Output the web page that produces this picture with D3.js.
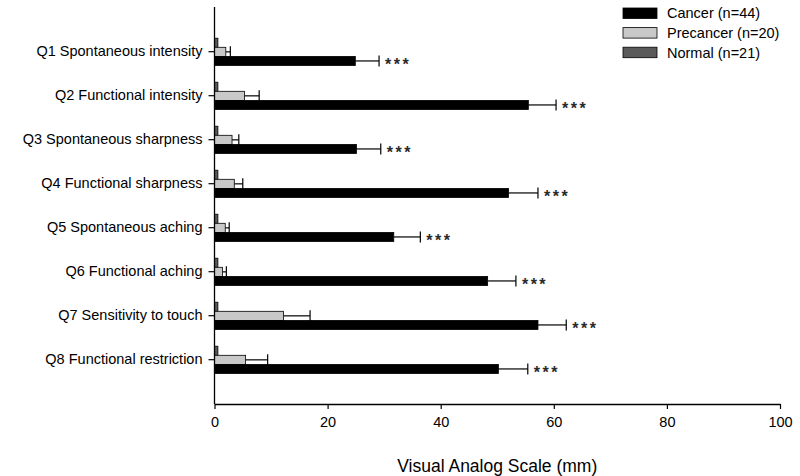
<!DOCTYPE html>
<html>
<head>
<meta charset="utf-8">
<script src="https://cdn.jsdelivr.net/npm/d3@7"></script>
<style>
  html, body { margin: 0; padding: 0; background: #fff; }
  svg { display: block; font-family: Arial, "Liberation Sans", sans-serif; }
</style>
</head>
<body>
<svg id="chart" width="800" height="476"></svg>
<script>
const categories = [
  "Q1 Spontaneous intensity",
  "Q2 Functional intensity",
  "Q3 Spontaneous sharpness",
  "Q4 Functional sharpness",
  "Q5 Spontaneous aching",
  "Q6 Functional aching",
  "Q7 Sensitivity to touch",
  "Q8 Functional restriction"
];
const seriesNames = ["Normal (n=21)", "Precancer (n=20)", "Cancer (n=44)"];
const legendOrder = ["Cancer (n=44)", "Precancer (n=20)", "Normal (n=21)"];
const normalValues    = [0.6, 0.6, 0.6, 0.6, 0.6, 0.6, 0.6, 0.6];
const normalErrors    = [0, 0, 0, 0, 0, 0, 0, 0];
const precancerValues = [2.0, 5.3, 3.1, 3.5, 1.9, 1.4, 12.2, 5.5];
const precancerErrors = [0.8, 2.6, 1.2, 1.5, 0.7, 0.7, 4.7, 3.9];
const cancerValues    = [24.9, 55.5, 25.1, 52.0, 31.7, 48.3, 57.2, 50.2];
const cancerErrors    = [4.2, 4.9, 4.3, 5.2, 4.7, 5.0, 5.0, 5.2];
const significance    = ["***", "***", "***", "***", "***", "***", "***", "***"];
const xTicks = [0, 20, 40, 60, 80, 100];
const xTitle = "Visual Analog Scale (mm)";

const seriesValues = [normalValues, precancerValues, cancerValues];
const seriesErrors = [normalErrors, precancerErrors, cancerErrors];
const fills = { "Normal (n=21)": "#5a5a5a", "Precancer (n=20)": "#c8c8c8", "Cancer (n=44)": "#000000" };

const svg = d3.select("#chart");
const plotTop = 7, plotBottom = 404;

const x = d3.scaleLinear().domain([0, 100]).range([214.5, 780]);
const y = d3.scaleBand().domain(categories).range([30, 382]);
const sub = d3.scaleBand().domain(seriesNames).range([-13.8, 13.5]);

const rows = [];
categories.forEach((c, i) => {
  seriesNames.forEach((s, k) => {
    rows.push({ cat: c, series: s, value: seriesValues[k][i], err: seriesErrors[k][i], sig: k === 2 ? significance[i] : null });
  });
});

const center = c => y(c) + y.bandwidth() / 2;

// error bars
const eb = svg.append("g").attr("stroke", "#000").attr("stroke-width", 1.2);
rows.filter(d => d.err > 0).forEach(d => {
  const cy = center(d.cat) + sub(d.series) + sub.bandwidth() / 2;
  eb.append("line").attr("x1", x(d.value)).attr("x2", x(d.value + d.err)).attr("y1", cy).attr("y2", cy);
  eb.append("line").attr("x1", x(d.value + d.err)).attr("x2", x(d.value + d.err))
    .attr("y1", cy - 5.5).attr("y2", cy + 5.5);
});

svg.append("g").selectAll("rect").data(rows).join("rect")
  .attr("x", x(0))
  .attr("y", d => center(d.cat) + sub(d.series))
  .attr("width", d => x(d.value) - x(0))
  .attr("height", sub.bandwidth())
  .attr("fill", d => fills[d.series])
  .attr("stroke", "#000")
  .attr("stroke-width", 0.8);

// significance stars
svg.append("g").selectAll("text").data(rows.filter(d => d.sig)).join("text")
  .attr("x", d => x(d.value + d.err) + 6)
  .attr("y", d => center(d.cat) + sub(d.series) + sub.bandwidth() / 2 + 9)
  .attr("font-size", 16)
  .attr("font-weight", "bold")
  .attr("letter-spacing", "2.5px")
  .attr("fill", "#2a2a2a")
  .text(d => d.sig);

// y axis
const yAxis = d3.axisLeft(y).tickSize(6).tickSizeOuter(0).tickPadding(6);
const gy = svg.append("g").attr("transform", `translate(${x(0)},0)`).call(yAxis);
gy.select(".domain").remove();
gy.selectAll(".tick").attr("transform", d => `translate(0,${center(d) - 0.3})`);
gy.selectAll(".tick line").attr("stroke", "#000").attr("stroke-width", 1.2);
gy.selectAll(".tick text").attr("font-size", 14.5).attr("fill", "#000").attr("font-family", "Arial, 'Liberation Sans', sans-serif");
svg.append("line").attr("x1", x(0)).attr("x2", x(0)).attr("y1", plotTop).attr("y2", plotBottom)
  .attr("stroke", "#000").attr("stroke-width", 1.3);

// x axis
const xAxis = d3.axisBottom(x).tickValues(xTicks).tickSize(5).tickSizeOuter(0).tickPadding(8);
const gx = svg.append("g").attr("transform", `translate(0,${plotBottom})`).call(xAxis);
gx.select(".domain").attr("stroke", "#000").attr("stroke-width", 1.3);
gx.selectAll(".tick line").attr("stroke", "#000").attr("stroke-width", 1.2);
gx.selectAll(".tick text").attr("font-size", 14.5).attr("fill", "#000").attr("font-family", "Arial, 'Liberation Sans', sans-serif");

svg.append("text")
  .attr("x", (x(0) + x(100)) / 2)
  .attr("y", 472)
  .attr("text-anchor", "middle")
  .attr("font-size", 17.5)
  .text(xTitle);

// legend
const lg = svg.append("g").attr("transform", "translate(623,8)");
legendOrder.forEach((name, i) => {
  const g = lg.append("g").attr("transform", `translate(0,${i * 19.6})`);
  g.append("rect").attr("width", 34).attr("height", 10.5)
    .attr("fill", fills[name]).attr("stroke", "#000").attr("stroke-width", 0.8);
  g.append("text").attr("x", 44).attr("y", 5.3).attr("dy", "0.35em")
    .attr("font-size", 14.5).text(name);
});
</script>
</body>
</html>
